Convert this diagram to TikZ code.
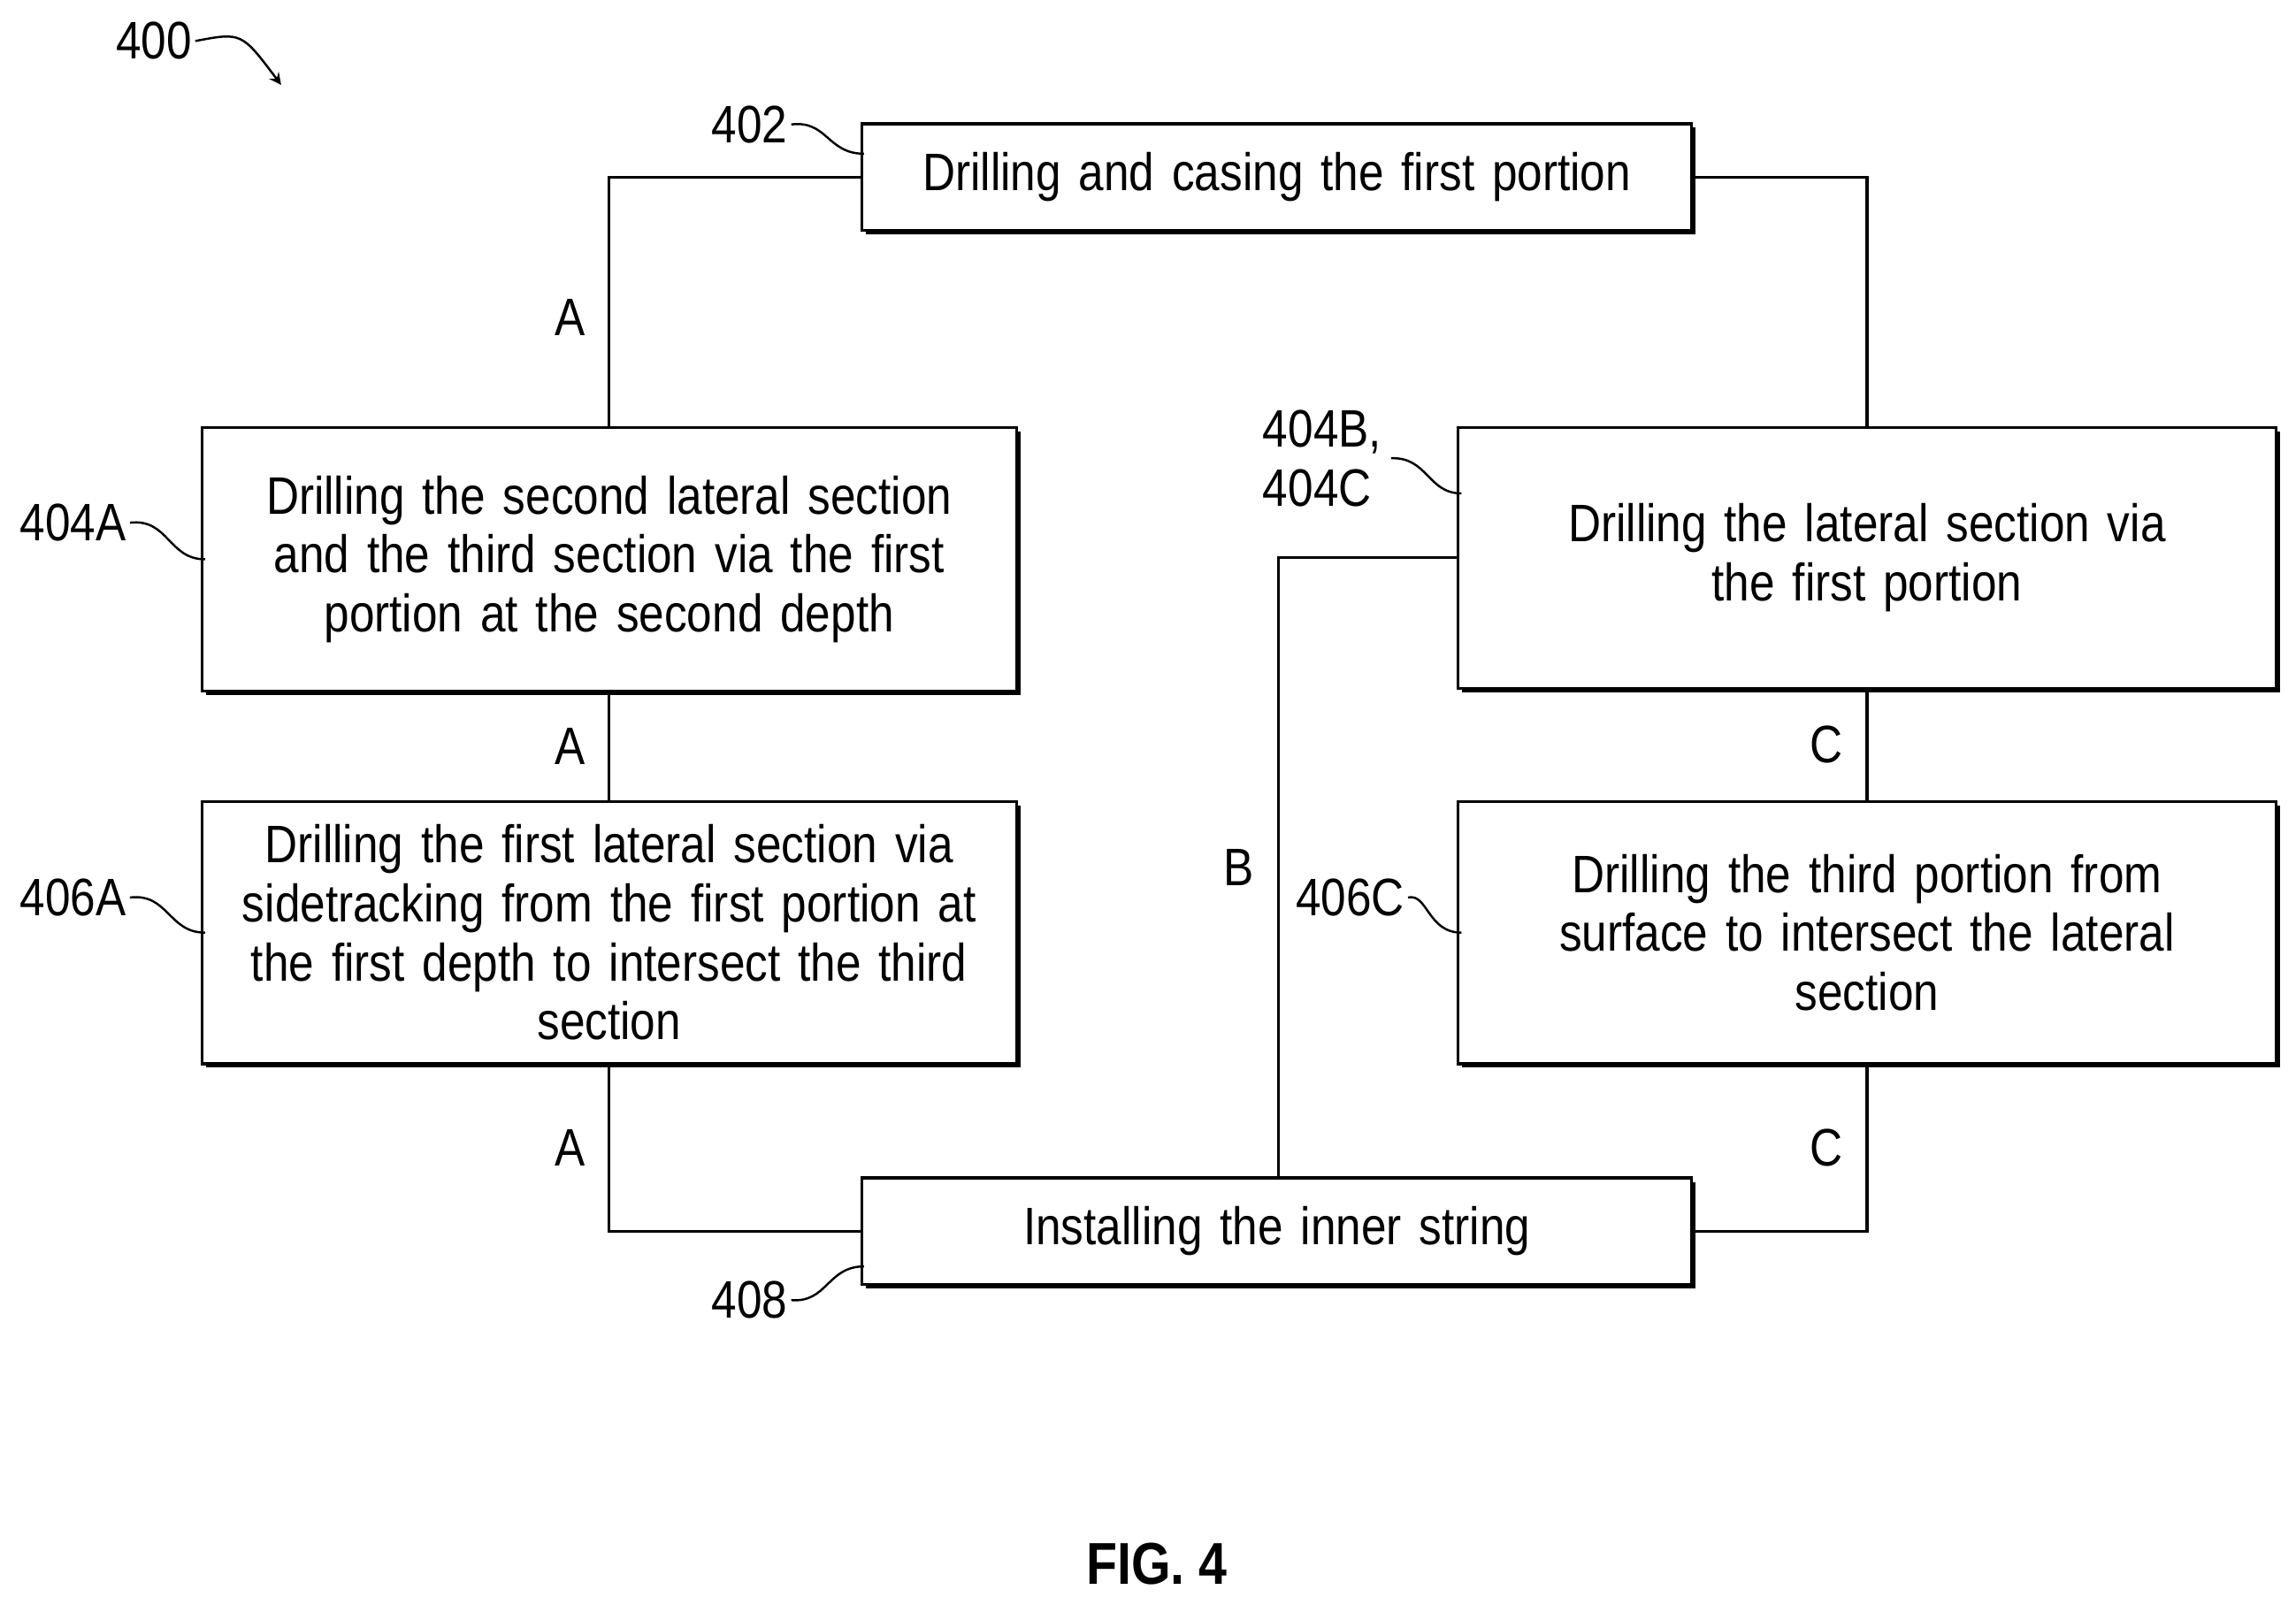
\documentclass[tikz,border=0pt]{standalone}
\usepackage{fontspec}
\setmainfont{Liberation Sans}[FakeStretch=0.86]
\usetikzlibrary{shadows}
\begin{document}
\begin{tikzpicture}[x=0.1658mm, y=-0.1658mm,
  font=\fontsize{17}{19}\selectfont,
  box/.style = {rectangle, draw, line width=0.9pt, fill=white, align=center,
                 inner sep=2pt, outer sep=0pt,
                 general shadow={fill=black, shadow xshift=1.3pt, shadow yshift=-1.3pt}},
  wire/.style = {line width=0.9pt},
  tag/.style = {inner sep=1pt},
  lead/.style = {line width=0.7pt},
]
\useasboundingbox (0,0) rectangle (1568,1096);
% process steps
\node[box, text width=92.5mm, minimum height=12.1mm] (s402) at (872,121) {Drilling and casing the first portion};
\node[box, text width=90.8mm, minimum height=29.8mm] (s404a) at (416,382) {Drilling the second lateral section\\and the third section via the first\\portion at the second depth};
\node[box, text width=90.8mm, minimum height=29.7mm] (s406a) at (416,637) {Drilling the first lateral section via\\sidetracking from the first portion at\\the first depth to intersect the third\\section};
\node[box, text width=91.2mm, minimum height=29.5mm] (s404b) at (1275,381) {Drilling the lateral section via\\the first portion};
\node[box, text width=91.2mm, minimum height=29.7mm] (s406c) at (1275,637) {Drilling the third portion from\\surface to intersect the lateral\\section};
\node[box, text width=92.5mm, minimum height=12.1mm] (s408) at (872,841) {Installing the inner string};
% connectors
\draw[wire] (s402.west) -| (s404a.north) node[pos=0.78, left=4pt] {A};
\draw[wire] (s404a) -- node[left=4pt] {A} (s406a);
\draw[wire] (s406a.south) |- node[pos=0.25, left=4pt] {A} (s408.west);
\draw[wire] (s402.east) -| (s404b.north);
\draw[wire] (s404b) -- node[left=4pt] {C} (s406c);
\draw[wire] (s406c.south) |- node[pos=0.25, left=4pt] {C} (s408.east);
\coordinate (bend) at (873,381);
\draw[wire] (s404b.west) -- (bend) -- node[left=4pt] {B} (s408.north -| bend);
% reference numerals
\node[tag] (n400) at (105,28) {400};
\node[tag] (n402) at (512,85) {402};
\node[tag] (n404a) at (50,357) {404A};
\node[tag] (n406a) at (50,613) {406A};
\node[tag, align=left] (n404b) at (903,313) {404B,\\404C};
\node[tag] (n406c) at (922,613) {406C};
\node[tag] (n408) at (512,888) {408};
\node[font=\bfseries\fontsize{19}{21}\selectfont] (fig) at (790,1068) {FIG. 4};
\draw[lead, -stealth] (n400.east) .. controls (165,22) .. (192,58);
\draw[lead] (n402.east) .. controls (565,82) and (565,105) .. (590,105);
\draw[lead] (n404a.east) .. controls (115,354) and (115,382) .. (140,382);
\draw[lead] (n406a.east) .. controls (115,610) and (115,637) .. (140,637);
\draw[lead] (950,313) .. controls (975,312) and (975,337) .. (998,337);
\draw[lead] (n406c.east) .. controls (975,610) and (975,637) .. (998,637);
\draw[lead] (n408.east) .. controls (565,890) and (565,865) .. (590,865);
\end{tikzpicture}
\end{document}
